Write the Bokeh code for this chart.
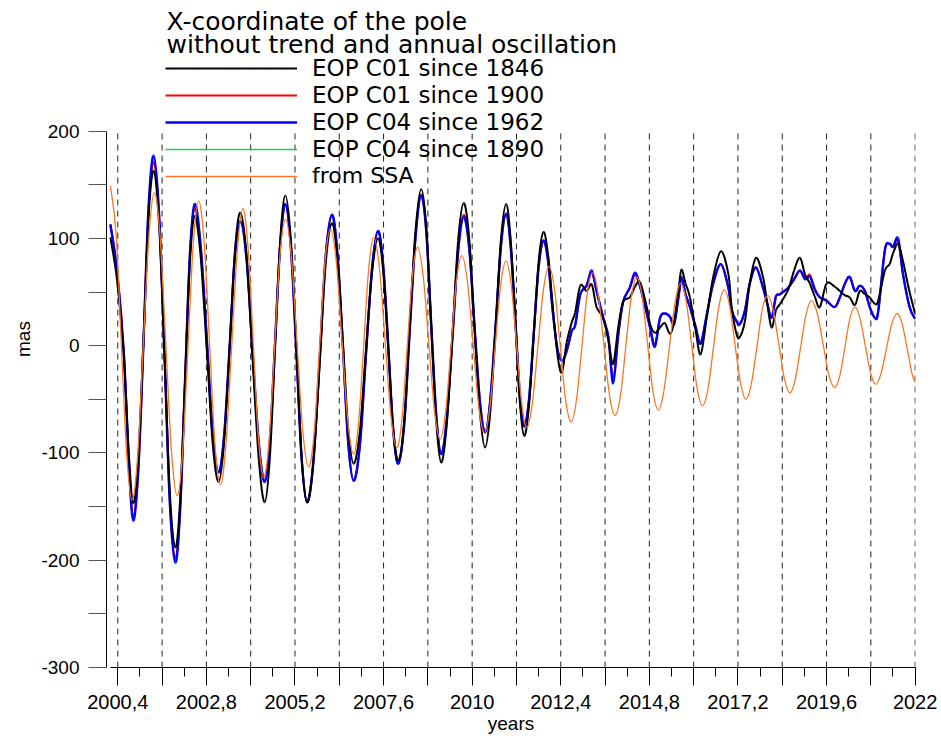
from bokeh.plotting import figure
from bokeh.models import ColumnDataSource, FixedTicker, Legend, LegendItem, Label, Range1d
from bokeh.embed import file_html
from bokeh.resources import INLINE

# ---------------- data ----------------
title_lines = ["X-coordinate of the pole", "without trend and annual oscillation"]
series_names = ["EOP C01 since 1846", "EOP C01 since 1900", "EOP C04 since 1962",
                "EOP C04 since 1890", "from SSA"]

# common epochs (years) of the EOP series
eop_t = [2000.20, 2000.38, 2000.56, 2000.70, 2000.82, 2000.96, 2001.10, 2001.23, 2001.37,
         2001.52, 2001.67, 2001.81, 2001.96, 2002.09, 2002.22, 2002.35, 2002.48, 2002.64,
         2002.81, 2002.97, 2003.13, 2003.28, 2003.43, 2003.57, 2003.72, 2003.89, 2004.05,
         2004.22, 2004.38, 2004.52, 2004.66, 2004.80, 2004.94, 2005.09, 2005.24, 2005.38,
         2005.53, 2005.70, 2005.87, 2006.03, 2006.20, 2006.35, 2006.50, 2006.64, 2006.79,
         2006.96, 2007.12, 2007.29, 2007.45, 2007.59, 2007.73, 2007.86, 2008.00, 2008.16,
         2008.31, 2008.47, 2008.62, 2008.76, 2008.89, 2009.03, 2009.16, 2009.31, 2009.47,
         2009.62, 2009.77, 2009.92, 2010.06, 2010.21, 2010.35, 2010.49, 2010.64, 2010.78,
         2010.92, 2011.04, 2011.17, 2011.29, 2011.41, 2011.54, 2011.67, 2011.80, 2011.93,
         2012.06, 2012.18, 2012.31, 2012.43,
         2012.56, 2012.70, 2012.79, 2012.93, 2013.10, 2013.24, 2013.37, 2013.55, 2013.69,
         2013.82, 2013.96, 2014.09, 2014.27, 2014.41, 2014.55, 2014.73, 2014.82, 2014.95,
         2015.09, 2015.22, 2015.36, 2015.47, 2015.60, 2015.67, 2015.78, 2015.90, 2016.05,
         2016.19, 2016.35, 2016.53, 2016.74, 2016.94, 2017.03, 2017.16, 2017.25, 2017.39,
         2017.52, 2017.69, 2017.88, 2017.99, 2018.11, 2018.23, 2018.34, 2018.56, 2018.72,
         2018.88, 2019.02, 2019.15, 2019.29, 2019.42, 2019.60, 2019.82, 2019.96, 2020.10,
         2020.23, 2020.37, 2020.50, 2020.64, 2020.77, 2020.91, 2021.00, 2021.18, 2021.31,
         2021.40, 2021.54, 2021.67, 2021.85, 2022.00]

# EOP C01 since 1846 (black), mas
c01_1846 = [101, 61, -8, -101, -147, -102, 8, 118, 163,
            112, -13, -137, -188, -143, -34, 76, 121, 85,
            -3, -91, -127, -90, -2, 87, 124, 84, -11,
            -106, -146, -104, -3, 98, 140, 98, -3, -104,
            -146, -108, -16, 76, 114, 81, 2, -77, -110,
            -79, -5, 69, 100, 70, -4, -77, -107, -70,
            20, 109, 146, 109, 19, -72, -109, -74, 12,
            98, 133, 100, 19, -62, -95, -62, 19, 99,
            132, 100, 24, -52, -84, -56, 11, 78, 106,
            84, 38, -8, -25,
            3, 22, 31, 56, 51, 57, 36, 26, 5,
            -17, 18, 41, 45, 55, 59, 36, 20, 12,
            17, 21, 11, 22, 55, 71, 58, 45, 15,
            -8, 25, 64, 88, 67, 36, 11, 8, 23,
            58, 82, 64, 40, 17, 33, 39, 52, 70,
            82, 66, 58, 45, 36, 58, 55, 51, 47,
            45, 38, 51, 48, 45, 39, 42, 70, 76,
            86, 95, 79, 50, 30]

# EOP C04 since 1962 (blue), mas
c04_1962 = [113, 70, -5, -110, -163, -113, 7, 127, 177,
            122, -13, -147, -202, -153, -35, 83, 132, 95,
            7, -81, -118, -84, -1, 82, 116, 80, -6,
            -91, -127, -89, 3, 94, 132, 91, -7, -105,
            -146, -107, -12, 83, 122, 86, -2, -90, -126,
            -92, -10, 73, 107, 75, -2, -78, -110, -73,
            15, 103, 140, 105, 20, -66, -101, -69, 10,
            88, 120, 91, 20, -52, -81, -51, 21, 93,
            123, 94, 24, -46, -75, -50, 12, 73, 98,
            78, 33, -3, -14,
            -5, 14, 19, 48, 56, 70, 51, 26, 8,
            -35, 11, 41, 54, 68, 55, 30, 17, -1,
            26, 30, 27, 20, 48, 64, 48, 36, 18,
            2, 28, 58, 76, 54, 33, 23, 20, 33,
            58, 73, 54, 40, 26, 46, 48, 54, 62,
            70, 62, 64, 52, 45, 42, 36, 45, 58,
            64, 51, 56, 51, 36, 26, 32, 89, 95,
            92, 100, 67, 36, 25]

# EOP C01 since 1900 (red), mas - almost hidden under the blue curve
c01_1900 = [113, 70, -5, -110, -160, -113, 7, 125, 171,
            120, -13, -145, -198, -151, -35, 82, 128, 95,
            7, -81, -118, -84, -1, 82, 116, 80, -6,
            -91, -127, -89, 3, 94, 132, 91, -7, -105,
            -146, -107, -12, 83, 122, 86, -2, -90, -126,
            -92, -10, 73, 107, 75, -2, -78, -110, -73,
            15, 103, 141, 105, 20, -66, -101, -69, 10,
            88, 122, 91, 20, -52, -81, -51, 21, 93,
            123, 94, 24, -46, -75, -50, 12, 73, 98,
            78, 33, -3, -14,
            -5, 14, 19, 48, 56, 68, 51, 26, 8,
            -30, 11, 41, 54, 66, 55, 30, 17, 1,
            26, 30, 27, 20, 48, 64, 48, 36, 18,
            2, 28, 58, 76, 54, 33, 23, 20, 33,
            58, 73, 54, 40, 26, 46, 48, 54, 62,
            70, 62, 66, 52, 45, 42, 36, 45, 58,
            64, 51, 56, 51, 36, 26, 32, 89, 95,
            92, 97, 67, 36, 25]

# EOP C04 since 1890 (green) - coincides with the red curve, not visible
c04_1890 = c01_1900

# SSA reconstruction (orange)
ssa_t = [2000.20, 2000.35, 2000.495, 2000.64, 2000.79, 2000.94, 2001.09, 2001.24, 2001.39,
         2001.545, 2001.70, 2001.855, 2002.01, 2002.155, 2002.30, 2002.445, 2002.59, 2002.74,
         2002.885, 2003.03, 2003.18, 2003.33, 2003.485, 2003.64, 2003.79, 2003.93, 2004.07,
         2004.21, 2004.35, 2004.50, 2004.645, 2004.79, 2004.94, 2005.10, 2005.255, 2005.41,
         2005.57, 2005.72, 2005.865, 2006.01, 2006.16, 2006.32, 2006.475, 2006.63, 2006.79,
         2006.925, 2007.06, 2007.195, 2007.33, 2007.49, 2007.645, 2007.80, 2007.96, 2008.10,
         2008.24, 2008.38, 2008.52, 2008.67, 2008.825, 2008.98, 2009.13, 2009.28, 2009.425,
         2009.57, 2009.72, 2009.87, 2010.025, 2010.18, 2010.33, 2010.48, 2010.625, 2010.77,
         2010.92, 2011.06, 2011.20, 2011.34, 2011.48, 2011.63, 2011.78, 2011.93, 2012.08,
         2012.23, 2012.38, 2012.53, 2012.68, 2012.825, 2012.97, 2013.115, 2013.26, 2013.41,
         2013.565, 2013.72, 2013.87, 2014.02, 2014.165, 2014.31, 2014.46, 2014.605, 2014.75,
         2014.895, 2015.04, 2015.19, 2015.345, 2015.50, 2015.65, 2015.80, 2015.945, 2016.09,
         2016.24, 2016.39, 2016.535, 2016.68, 2016.83, 2016.975, 2017.12, 2017.27, 2017.415,
         2017.56, 2017.71, 2017.855, 2018.00, 2018.15, 2018.305, 2018.46, 2018.61, 2018.755,
         2018.90, 2019.045, 2019.19, 2019.35, 2019.505, 2019.66, 2019.82, 2019.96, 2020.095,
         2020.23, 2020.37, 2020.51, 2020.65, 2020.79, 2020.93, 2021.075, 2021.22, 2021.365,
         2021.51, 2021.645, 2021.78, 2021.915, 2022.00]
ssa_v = [149, 106, 3, -101, -144, -102, 0, 101, 143,
         102, 2, -99, -140, -100, -3, 95, 135, 96,
         3, -91, -130, -92, -1, 90, 128, 91, 3,
         -86, -123, -88, -3, 83, 118, 84, 3, -79,
         -113, -81, -2, 77, 109, 78, 4, -70, -101,
         -71, 0, 71, 101, 72, 3, -66, -95, -68,
         -2, 65, 92, 66, 3, -61, -87, -62, -2,
         59, 84, 60, 2, -57, -81, -58, -1, 56,
         79, 56, 2, -53, -76, -54, -1, 52, 74,
         53, 2, -50, -71, -51, -2, 48, 68, 49,
         2, -46, -65, -46, 0, 45, 64, 46, 2,
         -42, -60, -43, -1, 41, 58, 41, 1, -39,
         -56, -40, -2, 36, 52, 37, 1, -35, -50,
         -36, -2, 33, 47, 34, 2, -31, -44, -31,
         -1, 29, 42, 30, 2, -27, -39, -28, -2,
         25, 36, 25, 0, -25, -36, -26, -3, 20,
         30, 21, -2, -26, -34]

x_ticks = [2000.4, 2001.6, 2002.8, 2004.0, 2005.2, 2006.4, 2007.6, 2008.8, 2010.0, 2011.2,
           2012.4, 2013.6, 2014.8, 2016.0, 2017.2, 2018.4, 2019.6, 2020.8, 2022.0]
x_tick_labels = ["2000,4", "", "2002,8", "", "2005,2", "", "2007,6", "", "2010", "",
                 "2012,4", "", "2014,8", "", "2017,2", "", "2019,6", "", "2022"]
x_minor_ticks = [2001.0, 2002.2, 2003.4, 2004.6, 2005.8, 2007.0, 2008.2, 2009.4, 2010.6,
                 2011.8, 2013.0, 2014.2, 2015.4, 2016.6, 2017.8, 2019.0, 2020.2, 2021.4]
y_ticks = [-300, -250, -200, -150, -100, -50, 0, 50, 100, 150, 200]
y_tick_labels = ["-300", "", "-200", "", "-100", "", "0", "", "100", "", "200"]


# ---------------- helpers ----------------
def smooth_source(t, v):
    """Bezier segments through the read points (Catmull-Rom tangents)."""
    n = len(t)
    d = {k: [] for k in ("x0", "y0", "x1", "y1", "cx0", "cy0", "cx1", "cy1")}
    for i in range(n - 1):
        a = max(i - 1, 0)
        b = min(i + 2, n - 1)
        d["x0"].append(t[i]); d["y0"].append(v[i])
        d["x1"].append(t[i + 1]); d["y1"].append(v[i + 1])
        d["cx0"].append(t[i] + (t[i + 1] - t[a]) / 6.0)
        d["cy0"].append(v[i] + (v[i + 1] - v[a]) / 6.0)
        d["cx1"].append(t[i + 1] - (t[b] - t[i]) / 6.0)
        d["cy1"].append(v[i + 1] - (v[b] - v[i]) / 6.0)
    return ColumnDataSource(d)


TICK_FONT = "Liberation Sans"
TEXT_FONT = "DejaVu Sans"

# frame spans the whole upper area so that title and legend (drawn inside it) are not clipped;
# the y axis itself is bounded to [-300, 200]
p = figure(width=941, height=739, output_backend="svg", toolbar_location=None,
           x_range=Range1d(2000.094, 2022.01), y_range=Range1d(-300, 312.5),
           min_border_left=106, min_border_right=26, min_border_top=10, min_border_bottom=72)
p.outline_line_color = None
p.background_fill_color = "white"
p.border_fill_color = "white"

# vertical dashed lines at the major x ticks, spanning the y axis extent
p.segment(x0=x_ticks, y0=[y_ticks[0]] * len(x_ticks), x1=x_ticks, y1=[y_ticks[-1]] * len(x_ticks),
          line_color="#222222", line_width=1, line_dash="6 5")

bz = dict(x0="x0", y0="y0", x1="x1", y1="y1", cx0="cx0", cy0="cy0", cx1="cx1", cy1="cy1")
r_green = p.bezier(source=smooth_source(eop_t, c04_1890), line_color="#22cc55", line_width=1.5, **bz)
r_red = p.bezier(source=smooth_source(eop_t, c01_1900), line_color="#ff0000", line_width=2.0, **bz)
r_blue = p.bezier(source=smooth_source(eop_t, c04_1962), line_color="#0000ff", line_width=2.4, **bz)
r_black = p.bezier(source=smooth_source(eop_t, c01_1846), line_color="#000000", line_width=2.0, **bz)
r_ssa = p.bezier(source=smooth_source(ssa_t, ssa_v), line_color="#ff7420", line_width=1.3, **bz)

# ---------------- axes ----------------
xt = FixedTicker(ticks=x_ticks, minor_ticks=x_minor_ticks)
xa = p.xaxis[0]
xa.ticker = xt
xa.bounds = (2000.2, 2022.0)
xa.major_label_overrides = dict(zip(x_ticks, x_tick_labels))
xa.major_tick_out = 18
xa.major_tick_in = 0
xa.minor_tick_out = 9
xa.minor_tick_in = 0
xa.axis_line_color = "black"
xa.major_tick_line_color = "black"
xa.minor_tick_line_color = "black"
xa.major_label_text_font = TICK_FONT
xa.major_label_text_font_size = "20px"
xa.major_label_text_color = "black"
xa.major_label_standoff = 9
xa.axis_label = "years"
xa.axis_label_text_font = TICK_FONT
xa.axis_label_text_font_size = "19px"
xa.axis_label_text_font_style = "normal"
xa.axis_label_text_color = "black"
xa.axis_label_standoff = 1

ya = p.yaxis[0]
ya.ticker = FixedTicker(ticks=y_ticks, minor_ticks=[])
ya.bounds = (y_ticks[0], y_ticks[-1])
ya.major_label_overrides = dict(zip(y_ticks, y_tick_labels))
ya.major_tick_out = 18
ya.major_tick_in = 0
ya.minor_tick_out = 0
ya.minor_tick_in = 0
ya.axis_line_color = "black"
ya.major_tick_line_color = "#555555"
ya.major_label_text_font = TICK_FONT
ya.major_label_text_font_size = "19px"
ya.major_label_text_color = "black"
ya.major_label_standoff = 9
ya.axis_label = "mas"
ya.axis_label_text_font = TICK_FONT
ya.axis_label_text_font_size = "19px"
ya.axis_label_text_font_style = "normal"
ya.axis_label_text_color = "black"
ya.axis_label_standoff = 4

p.xgrid[0].grid_line_color = None
p.ygrid[0].grid_line_color = None

# ---------------- title & legend ----------------
p.add_layout(Label(x=60, y=646, x_units="screen", y_units="screen", text=title_lines[0],
                   text_font=TEXT_FONT, text_font_size="25px", text_color="black",
                   text_baseline="middle", text_align="left"))
p.add_layout(Label(x=60, y=623, x_units="screen", y_units="screen", text=title_lines[1],
                   text_font=TEXT_FONT, text_font_size="25px", text_color="black",
                   text_baseline="middle", text_align="left"))

common_leg = dict(glyph_width=132, glyph_height=20, label_standoff=15, padding=0, margin=0,
                  border_line_color=None, background_fill_alpha=0.0,
                  label_text_font=TEXT_FONT, label_text_color="black", label_height=20)
leg1 = Legend(items=[LegendItem(label=series_names[0], renderers=[r_black]),
                     LegendItem(label=series_names[1], renderers=[r_red]),
                     LegendItem(label=series_names[2], renderers=[r_blue]),
                     LegendItem(label=series_names[3], renderers=[r_green])],
              location=(59, 505), spacing=1, label_text_font_size="23px", **common_leg)
leg2 = Legend(items=[LegendItem(label=series_names[4], renderers=[r_ssa])],
              location=(59, 479), spacing=0, label_text_font_size="22px", **common_leg)
p.add_layout(leg1)
p.add_layout(leg2)

open("out.html", "w").write(file_html(p, INLINE))
